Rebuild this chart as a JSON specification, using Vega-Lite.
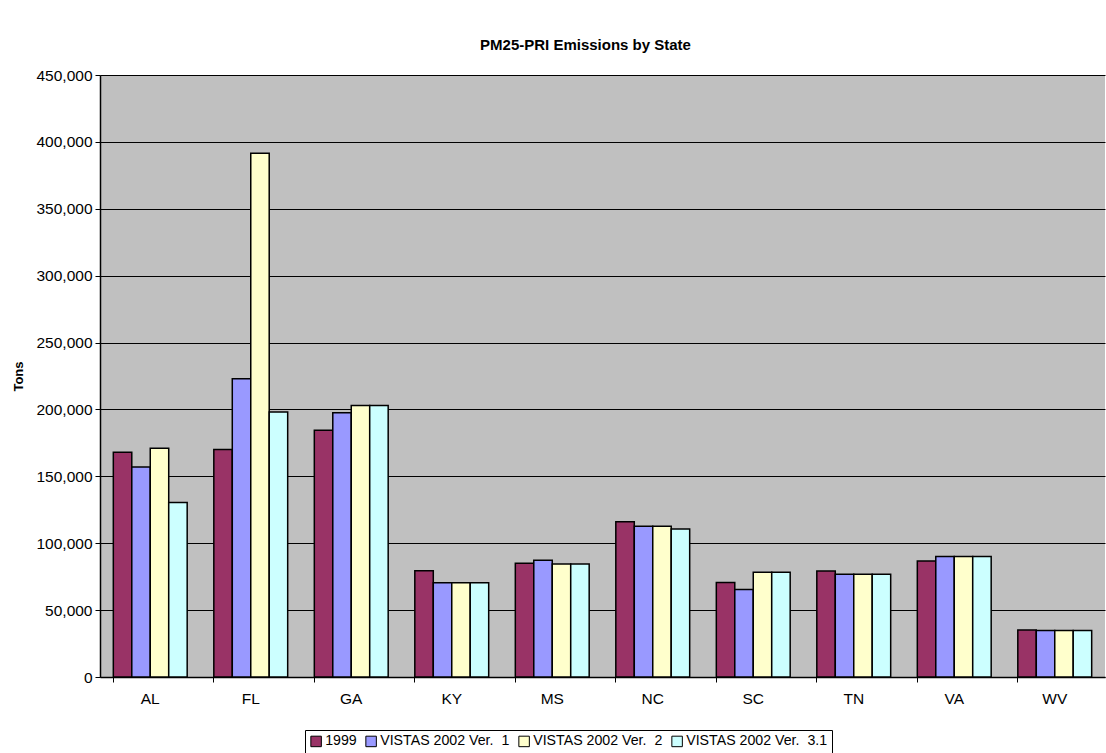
{
  "$schema": "https://vega.github.io/schema/vega-lite/v6.json",
  "autosize": "none",
  "width": 1005,
  "height": 602,
  "padding": {"left": 100, "top": 75, "right": 1, "bottom": 76},
  "background": "white",
  "title": {"text": "PM25-PRI Emissions by State", "font": "Liberation Sans", "fontSize": 15, "fontWeight": "bold", "color": "black", "offset": 15, "dx": -17},
  "config": {
    "view": {"fill": "#C0C0C0", "stroke": null},
    "font": "Liberation Sans"
  },
  "data": {"values": [
    {"state": "AL", "series": "1999", "tons": 168000},
    {"state": "AL", "series": "VISTAS 2002 Ver.  1", "tons": 157000},
    {"state": "AL", "series": "VISTAS 2002 Ver.  2", "tons": 171000},
    {"state": "AL", "series": "VISTAS 2002 Ver.  3.1", "tons": 130500},
    {"state": "FL", "series": "1999", "tons": 170000},
    {"state": "FL", "series": "VISTAS 2002 Ver.  1", "tons": 223000},
    {"state": "FL", "series": "VISTAS 2002 Ver.  2", "tons": 391500},
    {"state": "FL", "series": "VISTAS 2002 Ver.  3.1", "tons": 198000},
    {"state": "GA", "series": "1999", "tons": 184500},
    {"state": "GA", "series": "VISTAS 2002 Ver.  1", "tons": 197500},
    {"state": "GA", "series": "VISTAS 2002 Ver.  2", "tons": 203000},
    {"state": "GA", "series": "VISTAS 2002 Ver.  3.1", "tons": 203000},
    {"state": "KY", "series": "1999", "tons": 79500},
    {"state": "KY", "series": "VISTAS 2002 Ver.  1", "tons": 70500},
    {"state": "KY", "series": "VISTAS 2002 Ver.  2", "tons": 70500},
    {"state": "KY", "series": "VISTAS 2002 Ver.  3.1", "tons": 70500},
    {"state": "MS", "series": "1999", "tons": 85000},
    {"state": "MS", "series": "VISTAS 2002 Ver.  1", "tons": 87200},
    {"state": "MS", "series": "VISTAS 2002 Ver.  2", "tons": 84500},
    {"state": "MS", "series": "VISTAS 2002 Ver.  3.1", "tons": 84500},
    {"state": "NC", "series": "1999", "tons": 116000},
    {"state": "NC", "series": "VISTAS 2002 Ver.  1", "tons": 112700},
    {"state": "NC", "series": "VISTAS 2002 Ver.  2", "tons": 112700},
    {"state": "NC", "series": "VISTAS 2002 Ver.  3.1", "tons": 110700},
    {"state": "SC", "series": "1999", "tons": 70700},
    {"state": "SC", "series": "VISTAS 2002 Ver.  1", "tons": 65500},
    {"state": "SC", "series": "VISTAS 2002 Ver.  2", "tons": 78300},
    {"state": "SC", "series": "VISTAS 2002 Ver.  3.1", "tons": 78300},
    {"state": "TN", "series": "1999", "tons": 79200},
    {"state": "TN", "series": "VISTAS 2002 Ver.  1", "tons": 76800},
    {"state": "TN", "series": "VISTAS 2002 Ver.  2", "tons": 76800},
    {"state": "TN", "series": "VISTAS 2002 Ver.  3.1", "tons": 76800},
    {"state": "VA", "series": "1999", "tons": 86700},
    {"state": "VA", "series": "VISTAS 2002 Ver.  1", "tons": 90000},
    {"state": "VA", "series": "VISTAS 2002 Ver.  2", "tons": 90000},
    {"state": "VA", "series": "VISTAS 2002 Ver.  3.1", "tons": 90000},
    {"state": "WV", "series": "1999", "tons": 35200},
    {"state": "WV", "series": "VISTAS 2002 Ver.  1", "tons": 34800},
    {"state": "WV", "series": "VISTAS 2002 Ver.  2", "tons": 34800},
    {"state": "WV", "series": "VISTAS 2002 Ver.  3.1", "tons": 34800}
  ]},
  "mark": {"type": "bar", "stroke": "black", "strokeWidth": 1.5},
  "encoding": {
    "x": {
      "field": "state", "type": "nominal",
      "scale": {"paddingInner": 0.265, "paddingOuter": 0.1325},
      "axis": {
        "title": null, "labelAngle": 0, "labelFontSize": 15.5, "labelColor": "black",
        "labelFont": "Liberation Sans", "labelPadding": 9,
        "bandPosition": 0, "tickSize": 5, "tickColor": "black", "domainColor": "black",
        "domainWidth": 1.5, "grid": false
      }
    },
    "xOffset": {"field": "series", "type": "nominal", "scale": {"paddingInner": 0, "paddingOuter": 0}},
    "y": {
      "field": "tons", "type": "quantitative",
      "scale": {"domain": [0, 450000], "nice": false},
      "axis": {
        "title": "Tons", "titleFontSize": 13, "titleFont": "Liberation Sans", "titleFontWeight": "bold",
        "titleColor": "black", "titlePadding": 10,
        "values": [0, 50000, 100000, 150000, 200000, 250000, 300000, 350000, 400000, 450000],
        "format": ",.0f", "labelFontSize": 15.5, "labelColor": "black", "labelFont": "Liberation Sans",
        "labelPadding": 3,
        "tickSize": 5, "tickColor": "black", "domainColor": "black", "domainWidth": 1.5,
        "grid": true, "gridColor": "black", "gridWidth": 1, "gridOpacity": 1
      }
    },
    "color": {
      "field": "series", "type": "nominal",
      "scale": {"domain": ["1999", "VISTAS 2002 Ver.  1", "VISTAS 2002 Ver.  2", "VISTAS 2002 Ver.  3.1"],
                "range": ["#993366", "#9999FF", "#FFFFCC", "#CCFFFF"]},
      "legend": {
        "title": null, "orient": "none", "direction": "horizontal",
        "legendX": 205, "legendY": 655,
        "labelExpr": "replace(datum.label, 'Ver.  ', 'Ver.\u00a0 ')",
        "symbolType": "square", "symbolSize": 110, "symbolStrokeColor": "black", "symbolStrokeWidth": 1,
        "symbolOpacity": 1,
        "labelFontSize": 14.2, "labelFont": "Liberation Sans", "labelColor": "black", "labelOffset": 2,
        "columnPadding": 6, "padding": 4, "strokeColor": "black", "fillColor": "white"
      }
    }
  }
}
